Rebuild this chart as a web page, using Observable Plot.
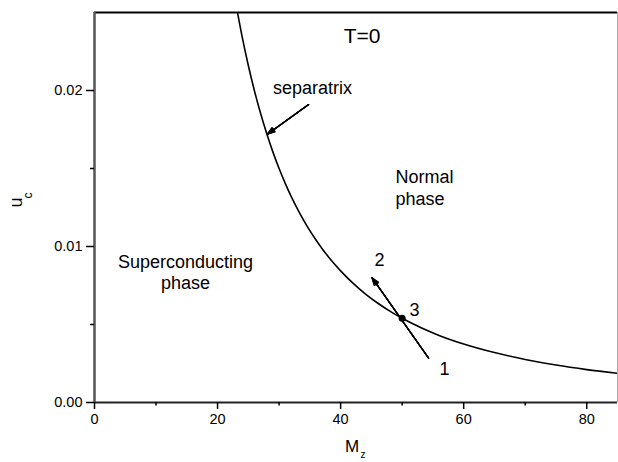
<!DOCTYPE html>
<html>
<head>
<meta charset="utf-8">
<script src="https://cdn.jsdelivr.net/npm/d3@7"></script>
<script src="https://cdn.jsdelivr.net/npm/@observablehq/plot@0.6"></script>
<style>
  html, body { margin: 0; padding: 0; background: #fff; }
  #chart svg { display: block; }
</style>
</head>
<body>
<div id="chart"></div>
<script>
// Separatrix curve u_c(M_z)
const mz = [23, 24, 25, 26, 27, 28, 29, 30, 31, 32, 33, 34, 35, 36, 37, 38, 39, 40, 42, 44, 46, 48, 50,
            53, 56, 60, 65, 70, 75, 80, 85];
const uc = [0.02552, 0.02344, 0.02160, 0.01997, 0.01852, 0.01722, 0.01605, 0.01500, 0.01405, 0.01318,
            0.01240, 0.01168, 0.01102, 0.01042, 0.00986, 0.00935, 0.00888, 0.00844, 0.00765, 0.00697,
            0.00638, 0.00586, 0.00540, 0.00481, 0.00430, 0.00375, 0.00320, 0.00276, 0.00240, 0.00211, 0.00187];

// Fixed point 3
const pointM = [50];
const pointU = [0.0054];

// Arrows (data units)
const arrowX1 = [34.8, 54.3];
const arrowY1 = [0.0191, 0.00284];
const arrowX2 = [28.1, 45.1];
const arrowY2 = [0.0172, 0.0080];

// Annotations (left-aligned)
const leftText = ["separatrix", "Normal\nphase"];
const leftX = [29.0, 48.9];
const leftY = [0.0202, 0.0138];

// Annotations (centred)
const midText = ["Superconducting\nphase", "2", "3", "1"];
const midX = [14.8, 46.3, 52.0, 56.9];
const midY = [0.0084, 0.0092, 0.0060, 0.0022];

const titleText = ["T=0"];
const titleX = [43.5];
const titleY = [0.0235];

const xTicks = [0, 20, 40, 60, 80];
const xMinor = [10, 30, 50, 70];
const yTicks = [0, 0.01, 0.02];
const yMinor = [0.005, 0.015];

const curve = mz.map((m, i) => ({m, u: uc[i]}));
const arrows = arrowX1.map((x, i) => ({x1: x, y1: arrowY1[i], x2: arrowX2[i], y2: arrowY2[i]}));
const leftNotes = leftText.map((t, i) => ({t, x: leftX[i], y: leftY[i]}));
const midNotes = midText.map((t, i) => ({t, x: midX[i], y: midY[i]}));

const font = "Liberation Sans, Arial, Helvetica, sans-serif";

const headMarks = [40, 32, 24, 16, 8].map(a =>
  Plot.arrow(arrows, {x1: "x1", y1: "y1", x2: "x2", y2: "y2", stroke: "#000", strokeWidth: 1.2,
    headLength: 10, headAngle: a})
);

const chart = Plot.plot({
  width: 618,
  height: 462,
  marginLeft: 94,
  marginRight: 1,
  marginTop: 12,
  marginBottom: 60,
  style: {fontFamily: font, fontSize: "14.5px", color: "#000", background: "#fff"},
  x: {domain: [0, 85], label: null},
  y: {domain: [0, 0.025], label: null},
  marks: [
    // frame
    Plot.ruleX([85], {stroke: "#aaa", strokeWidth: 1}),
    Plot.ruleY([0.025], {stroke: "#000", strokeWidth: 2}),
    Plot.ruleY([0], {stroke: "#222", strokeWidth: 2}),
    Plot.ruleX([0], {stroke: "#555", strokeWidth: 2.5}),
    Plot.axisX({ticks: xTicks, tickSize: 7, tickPadding: 4, fontSize: 14.5, label: null, strokeWidth: 1.5}),
    Plot.axisX({ticks: xMinor, tickSize: 3.5, tickFormat: () => "", label: null, strokeWidth: 1.5}),
    Plot.axisY({ticks: yTicks, tickSize: 8, tickPadding: 4, tickFormat: d3.format(".2f"), fontSize: 14.5, label: null, strokeWidth: 1.5}),
    Plot.axisY({ticks: yMinor, tickSize: 4, tickFormat: () => "", label: null, strokeWidth: 1.5}),
    // curve
    Plot.line(curve, {x: "m", y: "u", curve: "monotone-x", stroke: "#000", strokeWidth: 1.6, clip: true}),
    // arrows
    ...headMarks,
    // point
    Plot.dot(pointM.map((m, i) => ({m, u: pointU[i]})), {x: "m", y: "u", r: 3.5, fill: "#000"}),
    // annotations
    Plot.text(leftNotes, {x: "x", y: "y", text: "t", textAnchor: "start", fontSize: 18, lineHeight: 1.22, fill: "#000"}),
    Plot.text(midNotes, {x: "x", y: "y", text: "t", textAnchor: "middle", fontSize: 18, lineHeight: 1.22, fill: "#000"}),
    Plot.text(titleText.map((t, i) => ({t, x: titleX[i], y: titleY[i]})), {x: "x", y: "y", text: "t", fontSize: 21, fill: "#000"}),
    // axis labels with subscripts
    Plot.text(["u"], {frameAnchor: "left", dx: -78, rotate: -90, fontSize: 18, fill: "#000"}),
    Plot.text(["c"], {frameAnchor: "left", dx: -66, dy: -9, rotate: -90, fontSize: 12, fill: "#000"}),
    Plot.text(["M"], {frameAnchor: "bottom", dx: -4, dy: 49, fontSize: 17, fill: "#000"}),
    Plot.text(["z"], {frameAnchor: "bottom", dx: 7, dy: 55, fontSize: 10, fill: "#000"})
  ]
});

document.getElementById("chart").appendChild(chart);
</script>
</body>
</html>
